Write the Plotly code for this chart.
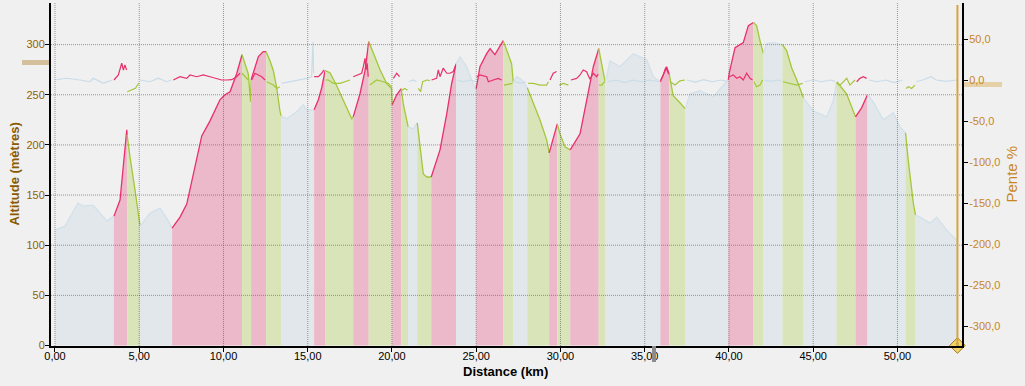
import plotly.graph_objects as go

# ---------------- data ----------------
# altitude profile: distance (km) / altitude (m)
dist_km = [0.00, 0.59, 1.37, 1.66, 2.26, 2.67, 3.09, 3.50, 3.86, 4.05, 4.26, 4.28, 4.45, 4.75, 4.94, 5.05,
           5.64, 6.23, 6.63, 6.95, 7.42, 7.82, 8.21, 8.71, 9.20, 9.79, 10.09, 10.39, 10.78, 11.10, 11.28,
           11.47, 11.61, 11.64, 11.87, 12.07, 12.36, 12.53, 12.76, 12.96, 13.16, 13.35, 13.42, 13.75, 14.34,
           14.74, 14.94, 15.38, 15.63, 15.83, 16.03, 16.32, 16.72, 17.11, 17.61, 17.70, 18.10, 18.40, 18.62,
           18.89, 19.29, 19.69, 19.98, 20.01, 20.28, 20.55, 20.67, 20.96, 21.27, 21.50, 21.66, 21.86, 22.06,
           22.33, 22.85, 23.25, 23.54, 23.81, 24.04, 24.43, 24.82, 25.00, 25.22, 25.62, 25.82, 26.11, 26.41,
           26.60, 26.90, 27.10, 27.20, 27.40, 27.70, 28.03, 28.39, 28.78, 29.18, 29.33, 29.57, 29.81, 29.97,
           30.27, 30.58, 31.16, 31.56, 31.95, 32.27, 32.45, 32.66, 32.94, 33.53, 34.32, 35.12, 35.51, 35.93,
           36.15, 36.30, 36.46, 36.69, 37.09, 37.41, 37.69, 38.28, 39.07, 39.96, 40.02, 40.36, 40.85, 41.15,
           41.45, 41.64, 41.84, 42.04, 42.24, 42.63, 43.17, 43.42, 43.72, 44.02, 44.42, 45.00, 45.80, 46.19,
           46.38, 46.59, 46.98, 47.28, 47.51, 47.87, 48.22, 48.56, 49.16, 49.75, 50.15, 50.48, 50.64, 50.94,
           51.07, 51.34, 51.93, 52.33, 52.92, 53.56]
alt_m = [115, 119, 142, 139, 140, 132, 124, 129, 145, 178, 215, 210, 188, 155, 129, 119,
         132, 137, 127, 117, 128, 141, 171, 209, 224, 245, 250, 253, 271, 290, 281,
         271, 243, 265, 278, 288, 293, 293, 284, 274, 257, 234, 229, 226, 233,
         240, 235, 235, 245, 257, 274, 272, 259, 244, 226, 228, 251, 274, 303,
         291, 275, 261, 256, 240, 250, 256, 241, 218, 216, 222, 201, 171, 168,
         168, 195, 231, 261, 281, 288, 278, 261, 256, 278, 291, 296, 290, 298,
         304, 291, 281, 262, 268, 265, 257, 241, 225, 205, 192, 208, 221, 211,
         198, 195, 211, 245, 278, 296, 281, 262, 284, 278, 291, 285, 268, 263,
         272, 278, 270, 249, 242, 236, 251, 254, 248, 265, 272, 297, 302, 319,
         322, 319, 304, 291, 301, 302, 300, 294, 277, 265, 247, 234, 228, 244,
         262, 259, 251, 237, 228, 237, 250, 243, 225, 232, 218, 212, 185, 142,
         130, 128, 122, 128, 115, 104]

# slope: distance (km) / slope (%)
slope_km = [0.00, 0.69, 1.48, 2.08, 2.27, 2.87, 3.40,
            3.50, 3.76, 3.96, 4.06, 4.15, 4.25,
            4.29, 4.58, 4.77, 4.97,
            5.06, 5.64, 6.13, 6.63, 6.91,
            7.02, 7.42, 7.82, 8.01, 8.41, 8.80, 9.20, 9.60, 9.89, 10.19, 10.49, 10.78, 10.98,
            11.10, 11.28, 11.47,
            11.67, 11.87, 12.07, 12.27, 12.47,
            12.56, 12.76, 12.96, 13.16, 13.35,
            13.45, 13.95, 14.44, 14.94, 15.23, 15.31, 15.35,
            15.38, 15.63, 15.83, 15.96,
            16.05, 16.22, 16.52, 16.91, 17.51,
            17.70, 18.00, 18.20, 18.30, 18.40, 18.46, 18.53, 18.59,
            18.69, 19.09, 19.48, 19.78, 19.98,
            20.08, 20.28, 20.45,
            20.58, 20.75, 20.92,
            21.00, 21.27, 21.45,
            21.56, 21.70, 21.82, 22.06, 22.26,
            22.35, 22.65, 22.75, 22.85, 23.04, 23.25, 23.44, 23.64, 23.78,
            23.85, 24.20, 24.60, 24.95,
            25.03, 25.22, 25.62, 25.72, 26.01, 26.31, 26.51,
            26.65, 27.00, 27.15,
            27.30, 27.60, 27.95,
            28.08, 28.39, 28.78, 29.18, 29.28,
            29.38, 29.57, 29.77,
            29.93, 30.17, 30.47,
            30.62, 30.96, 31.16, 31.35, 31.55, 31.75, 31.95, 32.15, 32.24,
            32.29, 32.45, 32.62,
            32.80, 33.30, 33.80, 34.30, 34.80, 35.30, 35.85,
            35.95, 36.10, 36.25, 36.40,
            36.50, 36.80, 37.09, 37.38,
            37.50, 38.00, 38.50, 39.00, 39.50, 39.90,
            40.02, 40.26, 40.46, 40.65, 40.85, 41.05, 41.25, 41.40,
            41.48, 41.64, 41.84, 42.00,
            42.10, 42.50, 42.90, 43.10,
            43.20, 43.62, 44.02, 44.38,
            44.50, 45.00, 45.50, 46.00, 46.30,
            46.40, 46.59, 46.99, 47.18, 47.48,
            47.58, 47.77, 47.97, 48.17,
            48.30, 48.80, 49.30, 49.80, 50.30,
            50.50, 50.65, 50.84, 51.04,
            51.10, 51.50, 52.00, 52.30, 52.90, 53.50]
slope_pct = [0.6, 2.7, 0.6, -1.5, 2.7, -3.4, 0.6,
             0.6, 6.7, 21, 12.8, 19, 12.8,
             -13.7, -11.6, -9.5, -3.4,
             0.6, -1.5, 2.7, -1.5, 0.6,
             0.6, 4.6, 2.6, 6.7, 4.6, 6.7, 4.6, 2.6, 0.6, 0.6, 1.0, 4.6, 8.8,
             8.8, 4.6, 0.6,
             0.6, 8.8, 6.7, 4.6, 0.6,
             -1.5, -3.5, -5.6, -9.7, -7.7,
             -3.5, -1.5, 0.6, 2.6, 4.6, 47, 8.8,
             4.6, 4.6, 8.8, 13,
             0.6, 0.6, -3.5, -3.5, 0.6,
             4.6, 6.7, 8.8, 17, 27, 13, 21, 4.6,
             -5.6, 0.6, -1.5, -3.5, -7.7,
             2.6, 8.8, 4.6,
             -12, -9.7, -12,
             -1.5, 0.6, -1.5,
             -9.7, -13.7, -1.5, 0.6, 0.0,
             0.6, 2.6, 12.8, 4.6, 15, 8.8, 8.8, 11, 19,
             0.6, -1.5, 0.6, -1.0,
             4.6, 6.7, 4.6, -1.5, 0.6, 2.6, 0.6,
             -5.6, -3.5, -3.5,
             -2.0, -3.0, -2.0,
             -3.5, -3.5, -5.6, -5.6, -1.5,
             0.6, 8.8, 11,
             -5.6, -3.5, -5.6,
             0.6, 2.6, 6.7, 12.8, 10.7, 1.5, 8.8, 4.6, 8.0,
             -5.6, -5.6, -1.5,
             -1.5, 0.6, -2.5, 0.6, -1.5, 0.6, -1.5,
             0.6, 6.7, 16, 8.8,
             -1.5, -5.6, -0.5, 0.6,
             0.6, -2.0, 1.0, -1.5, 0.6, -1.0,
             4.6, 6.7, 2.6, 4.6, 0.6, 8.8, 2.6, 0.6,
             -1.5, -7.7, -5.6, 0.6,
             0.6, -1.0, 0.6, -1.0,
             -1.5, -3.5, -5.6, -3.5,
             -1.5, 0.6, -1.5, 0.6, -1.0,
             -1.5, -5.6, 2.6, -5.6, 0.6,
             -1.5, 2.6, 4.6, 2.6,
             0.6, -1.5, 0.6, -2.5, 0.6,
             -9.7, -7.7, -9.7, -5.6,
             -1.5, 0.6, 4.6, 0.6, -1.0, 0.6]

# segments: C = climb, D = descent, F = flat
seg_bounds = [0.00, 3.50, 4.28, 5.05, 6.95, 11.10, 11.64, 12.53, 13.42, 15.38, 16.03, 17.70, 18.62, 20.01,
              20.55, 20.96, 21.50, 22.33, 23.81, 25.00, 26.60, 27.20, 28.03, 29.33, 29.81, 30.58, 32.27,
              32.66, 35.93, 36.46, 37.41, 39.96, 41.45, 42.04, 43.17, 44.42, 46.38, 47.51, 48.22, 50.48,
              51.07, 53.56]
seg_kind = ["F", "C", "D", "F", "C", "D", "C", "D", "F", "C", "D", "C", "D", "C", "D", "F", "D", "C",
            "F", "C", "D", "F", "D", "C", "D", "C", "D", "F", "C", "D", "F", "C", "D", "F", "D", "F",
            "D", "C", "F", "D", "F"]

x_tick_vals = [0, 5, 10, 15, 20, 25, 30, 35, 40, 45, 50]
x_tick_text = ["0,00", "5,00", "10,00", "15,00", "20,00", "25,00", "30,00", "35,00", "40,00", "45,00", "50,00"]
y_tick_vals = [0, 50, 100, 150, 200, 250, 300]
y_tick_text = ["0", "50", "100", "150", "200", "250", "300"]
y2_tick_vals = [50, 0, -50, -100, -150, -200, -250, -300]
y2_tick_text = ["50,0", "0,0", "-50,0", "-100,0", "-150,0", "-200,0", "-250,0", "-300,0"]

# ---------------- style ----------------
BG = "#F0F0F0"
FILL = {"C": "#ECB9CA", "D": "#D9E5B9", "F": "#E1E7EB"}
LINE = {"C": "#E8306A", "D": "#A5C63B", "F": "#D2E1EA"}
FONT = "Liberation Sans, Arial, sans-serif"
BROWN = "#946100"
ORANGE = "#C8861E"

fig = go.Figure()

# altitude areas per segment
for i, kind in enumerate(seg_kind):
    a, b = seg_bounds[i], seg_bounds[i + 1]
    xs = [d for d in dist_km if a - 1e-9 <= d <= b + 1e-9]
    ys = [h for d, h in zip(dist_km, alt_m) if a - 1e-9 <= d <= b + 1e-9]
    fig.add_trace(go.Scatter(x=xs, y=ys, mode="lines", fill="tozeroy", fillcolor=FILL[kind],
                             line=dict(color=LINE[kind], width=1.3), hoverinfo="skip", showlegend=False))

# slope lines per segment
for i, kind in enumerate(seg_kind):
    a, b = seg_bounds[i], seg_bounds[i + 1]
    xs = [d for d in slope_km if a - 1e-9 <= d < b - 1e-9]
    ys = [s for d, s in zip(slope_km, slope_pct) if a - 1e-9 <= d < b - 1e-9]
    fig.add_trace(go.Scatter(x=xs, y=ys, yaxis="y2", mode="lines",
                             line=dict(color=LINE[kind] if kind != "F" else "#C8DCE8", width=1.2),
                             hoverinfo="skip", showlegend=False))

# end-of-track marker
fig.add_trace(go.Scatter(x=[dist_km[-1]], y=[0], mode="markers+text", text=["1"],
                         textfont=dict(size=8, color="#5A4000", family=FONT),
                         marker=dict(symbol="diamond", size=12, color="#F2D36A",
                                     line=dict(color="#9C7A18", width=1)),
                         cliponaxis=False, hoverinfo="skip", showlegend=False))

shapes = []
# grid lines drawn above areas
for v in x_tick_vals:
    shapes.append(dict(type="line", xref="x", yref="paper", x0=v, x1=v, y0=0, y1=1, layer="above",
                       line=dict(color="rgba(90,90,90,0.6)", width=1, dash="1px,1px")))
for v in y_tick_vals[1:]:
    shapes.append(dict(type="line", xref="paper", yref="y", x0=0, x1=1, y0=v, y1=v, layer="above",
                       line=dict(color="rgba(90,90,90,0.6)", width=1, dash="1px,1px")))
# cursor line at end of track
shapes.append(dict(type="line", xref="x", yref="paper", x0=dist_km[-1], x1=dist_km[-1], y0=0, y1=0.994,
                   layer="above", line=dict(color="#D6A443", width=2)))
# slider handles
shapes.append(dict(type="rect", xref="paper", yref="paper", x0=-0.0318, x1=-0.0022, y0=0.8192, y1=0.8338,
                   fillcolor="#D3BF9C", line=dict(width=0), layer="above"))
shapes.append(dict(type="rect", xref="paper", yref="paper", x0=1.0011, x1=1.0439, y0=0.7551, y1=0.7697,
                   fillcolor="#E6D0A8", line=dict(width=0), layer="below"))
shapes.append(dict(type="rect", xref="paper", yref="paper", x0=0.6597, x1=0.6641, y0=-0.0466, y1=0.0,
                   fillcolor="#8C8C8C", line=dict(width=0), layer="above"))

annotations = [
    dict(text="<b>Altitude (mètres)</b>", xref="paper", yref="paper", x=-0.0406, y=0.50, textangle=-90,
         showarrow=False, xanchor="center", yanchor="middle", font=dict(family=FONT, size=13, color="#8A5A00")),
    dict(text="Pente %", xref="paper", yref="paper", x=1.0538, y=0.50, textangle=-90,
         showarrow=False, xanchor="center", yanchor="middle", font=dict(family=FONT, size=15, color=ORANGE)),
    dict(text="<b>Distance (km)</b>", xref="paper", yref="paper", x=0.4984, y=-0.0758,
         showarrow=False, xanchor="center", yanchor="middle", font=dict(family=FONT, size=13, color="black")),
]

fig.update_layout(
    width=1025, height=386,
    margin=dict(l=51, r=63, t=3, b=40, pad=0),
    paper_bgcolor=BG, plot_bgcolor=BG,
    showlegend=False,
    font=dict(family=FONT, size=11, color="black"),
    shapes=shapes, annotations=annotations,
    xaxis=dict(range=[-0.237, 53.83], tickvals=x_tick_vals, ticktext=x_tick_text, showgrid=False,
               zeroline=False, showline=True, linecolor="black", linewidth=2, ticks="outside", ticklen=4,
               tickcolor="black", ticklabelstandoff=-5,
               tickfont=dict(color="black", size=11, family=FONT)),
    yaxis=dict(range=[-0.5, 341.5], tickvals=y_tick_vals, ticktext=y_tick_text, showgrid=False,
               zeroline=False, showline=True, linecolor="black", linewidth=2, ticks="outside", ticklen=4,
               tickcolor="black", ticklabelstandoff=-2,
               tickfont=dict(color=BROWN, size=11, family=FONT)),
    yaxis2=dict(range=[-323.8, 94.5], overlaying="y", side="right", tickvals=y2_tick_vals,
                ticktext=y2_tick_text, showgrid=False, zeroline=False, showline=True, linecolor="black",
                linewidth=2, ticks="outside", ticklen=4, tickcolor="black", ticklabelstandoff=-1,
                tickfont=dict(color=ORANGE, size=11, family=FONT)),
)

fig.write_html("out.html", config={"displayModeBar": False},
               post_script="document.body.style.margin='0';document.body.style.overflow='hidden';")
